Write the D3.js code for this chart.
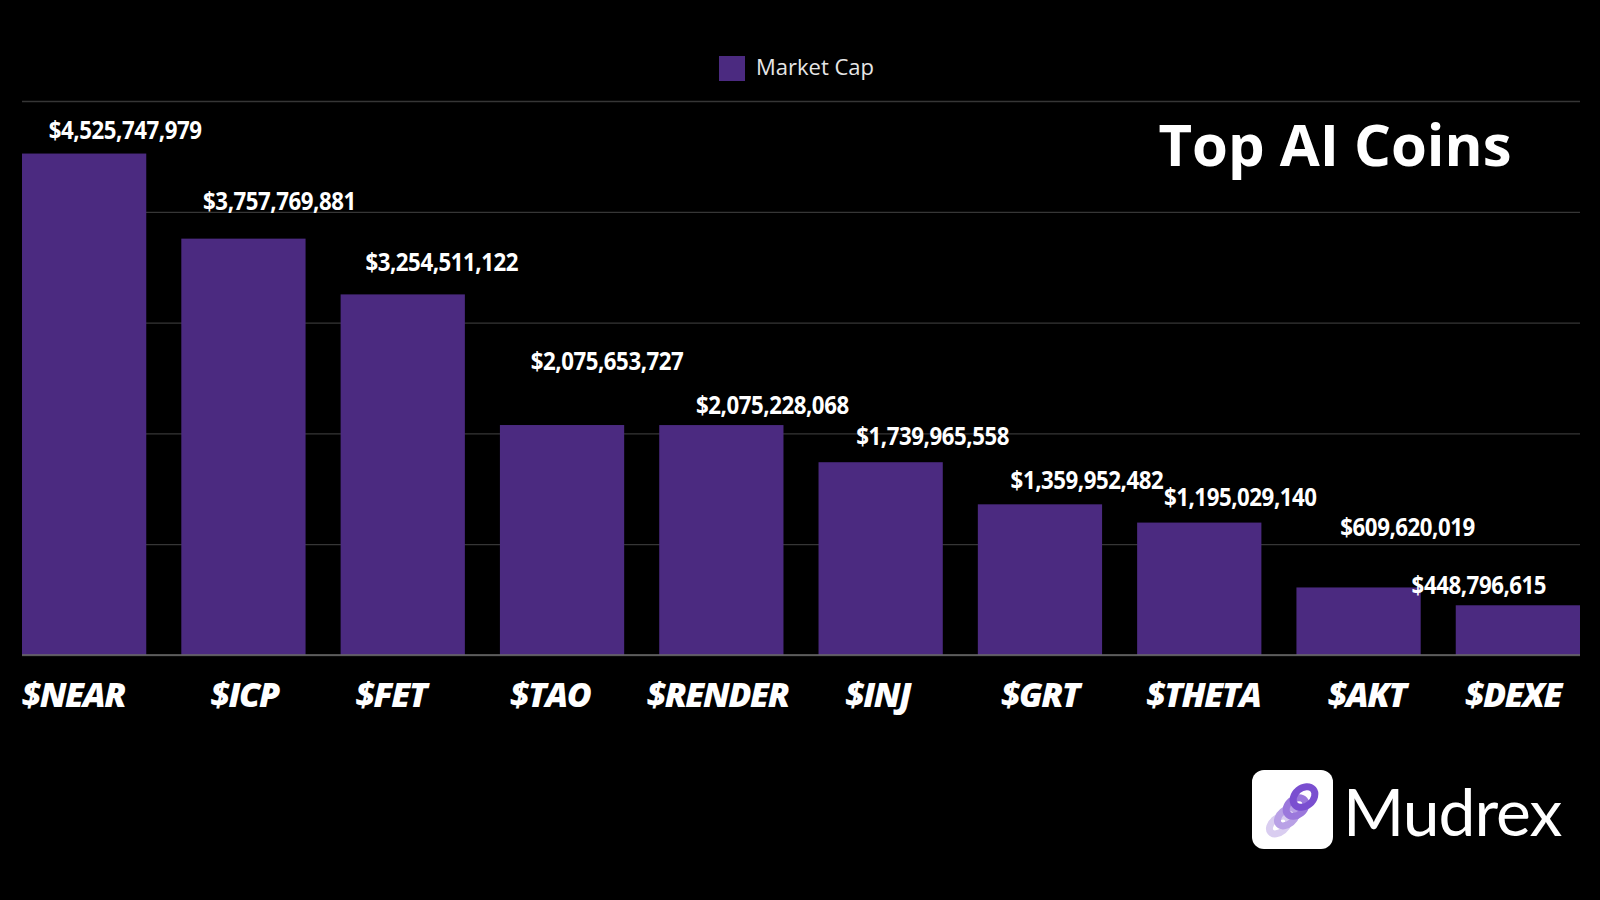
<!DOCTYPE html>
<html>
<head>
<meta charset="utf-8">
<script src="https://cdn.jsdelivr.net/npm/d3@7"></script>
<style>
  html, body { margin: 0; padding: 0; background: #000; }
  svg { display: block; }
</style>
</head>
<body>
<svg id="chart" width="1600" height="900"></svg>
<script>
// ---- data ----
const categories = ["$NEAR", "$ICP", "$FET", "$TAO", "$RENDER", "$INJ", "$GRT", "$THETA", "$AKT", "$DEXE"];
const marketCap = [4525747979, 3757769881, 3254511122, 2075653727, 2075228068, 1739965558, 1359952482, 1195029140, 609620019, 448796615];
const yTicks = [0, 1e9, 2e9, 3e9, 4e9, 5e9];
const seriesName = "Market Cap";
const titleText = "Top AI Coins";
const brandText = "Mudrex";

// ---- layout (label nudges, px) ----
const labelNudgeX = [41, 36, 39, 45, 51, 52, 47, 41, 49, -39];
const labelNudgeY = [-24, -38, -32, -64, -20, -26, -24, -26, -60, -20];
const catNudgeX = [-11, 1, -12, -12, -4, -3, 0, 4, 8, -5];

const W = 1600, H = 900;
const svg = d3.select("#chart");
svg.append("rect").attr("width", W).attr("height", H).attr("fill", "#000");

const x = d3.scaleBand().domain(categories).range([22, 1580]).paddingInner(0.22).paddingOuter(0);
const y = d3.scaleLinear().domain([0, 5e9]).range([655, 101]);

const barColor = "#4b2a80";

// gridlines
const yAxis = d3.axisLeft(y).tickValues(yTicks).tickSize(-(1580 - 22)).tickFormat("");
const gAxis = svg.append("g").attr("transform", "translate(22,0)").call(yAxis);
gAxis.select(".domain").remove();
gAxis.selectAll(".tick line").attr("stroke", "#363636").attr("stroke-width", 1.3);

// bars
svg.append("g").selectAll("rect").data(marketCap).join("rect")
  .attr("x", (d, i) => x(categories[i]))
  .attr("y", d => y(d))
  .attr("width", x.bandwidth())
  .attr("height", d => y(0) - y(d))
  .attr("fill", barColor);

// baseline
svg.append("line").attr("x1", 22).attr("x2", 1580).attr("y1", y(0)).attr("y2", y(0))
  .attr("stroke", "#6a6a6a").attr("stroke-width", 1.5);

// value labels
const fmt = d3.format("$,");
const vl = svg.append("g").selectAll("g").data(marketCap).join("g")
  .attr("transform", (d, i) => `translate(${x(categories[i]) + x.bandwidth() / 2 + labelNudgeX[i]},${y(d) + labelNudgeY[i]}) scale(0.89,1)`);
vl.append("text")
  .attr("text-anchor", "middle")
  .attr("dy", "0.36em")
  .attr("fill", "#fff")
  .attr("font-family", "Open Sans")
  .attr("font-weight", 700)
  .attr("font-size", 25)
  .attr("letter-spacing", -0.5)
  .text(d => fmt(d));

// category labels
const xAxis = d3.axisBottom(x).tickSize(0).tickPadding(0);
const gx = svg.append("g").attr("transform", `translate(0,${y(0)})`).call(xAxis);
gx.select(".domain").remove();
gx.selectAll(".tick text")
  .attr("fill", "#fff")
  .attr("font-family", "Open Sans")
  .attr("font-weight", 800)
  .attr("font-style", "italic")
  .attr("font-size", 34)
  .attr("letter-spacing", -1.5)
  .attr("dy", null)
  .attr("y", 52)
  .attr("x", (d, i) => catNudgeX[i]);

// legend
svg.append("rect").attr("x", 719).attr("y", 56).attr("width", 26).attr("height", 25).attr("fill", barColor);
svg.append("text").attr("x", 756).attr("y", 75)
  .attr("fill", "#e6e6e6").attr("font-family", "Open Sans").attr("font-size", 22)
  .text(seriesName);

// title
svg.append("text").attr("x", 1335).attr("y", 166).attr("text-anchor", "middle")
  .attr("fill", "#fff").attr("font-family", "Open Sans").attr("font-weight", 700).attr("font-size", 58)
  .text(titleText);

// brand logo
const logo = svg.append("g").attr("transform", "translate(1252,770)");
logo.append("rect").attr("width", 81).attr("height", 79).attr("rx", 12).attr("fill", "#fff");
const ring = (cx, cy, rx, ry, rot, color) => logo.append("ellipse")
  .attr("cx", cx).attr("cy", cy).attr("rx", rx).attr("ry", ry)
  .attr("transform", `rotate(${rot},${cx},${cy})`)
  .attr("fill", "none").attr("stroke", color).attr("stroke-width", 7);
ring(27, 55, 11, 7, -40, "#d9cdf0");
ring(35, 47, 11, 7, -40, "#b9a1e6");
ring(44, 37, 11, 8, -40, "#9b78dc");
ring(52, 27, 12, 9, -40, "#7a4fd0");
svg.append("text").attr("x", 1343).attr("y", 836)
  .attr("fill", "#fff").attr("font-family", "Lato").attr("font-size", 66).attr("letter-spacing", -1)
  .text(brandText);
</script>
</body>
</html>
